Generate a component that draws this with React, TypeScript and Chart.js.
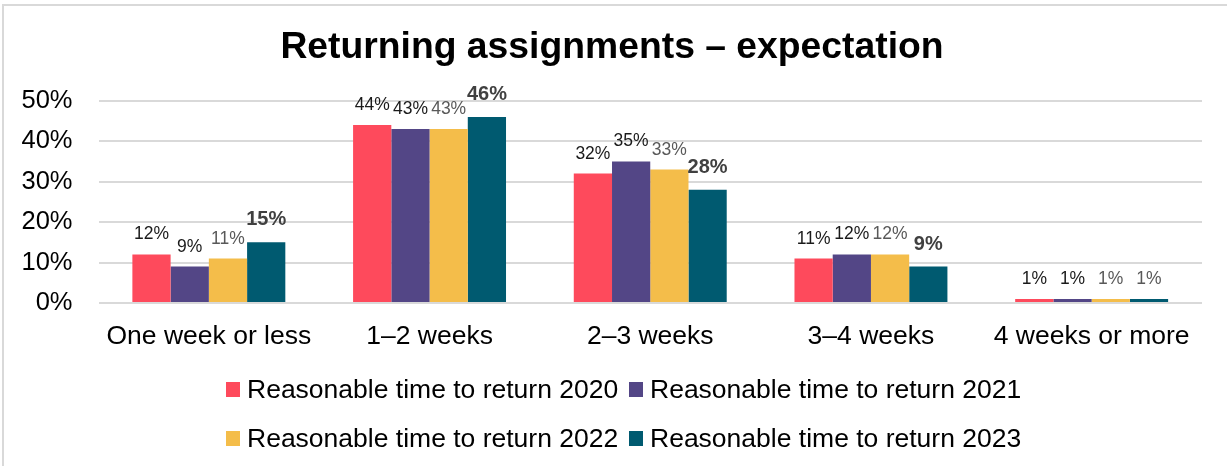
import React, { useEffect, useRef } from "react";
import { Chart, registerables } from "chart.js";

Chart.register(...registerables);

const categories = ["One week or less", "1–2 weeks", "2–3 weeks", "3–4 weeks", "4 weeks or more"];
const seriesNames = [
  "Reasonable time to return 2020",
  "Reasonable time to return 2021",
  "Reasonable time to return 2022",
  "Reasonable time to return 2023",
];
const values2020 = [12, 44, 32, 11, 1];
const values2021 = [9, 43, 35, 12, 1];
const values2022 = [11, 43, 33, 12, 1];
const values2023 = [15, 46, 28, 9, 1];
const seriesColors = ["#fe4a5c", "#534686", "#f4bd4a", "#005a70"];
const labelColors = ["#1a1a1a", "#1a1a1a", "#595959", "#404040"];
// per-series, per-category: is the data label bold
const labelBold = [
  [false, false, false, false, false],
  [false, false, false, false, false],
  [false, false, false, false, false],
  [true, true, true, true, false],
];
const yTicks = [0, 10, 20, 30, 40, 50];

const FONT = "'Liberation Sans', Arial, sans-serif";

const dataLabelPlugin = {
  id: "dataLabels",
  afterDatasetsDraw(chart: any) {
    const ctx = chart.ctx;
    chart.data.datasets.forEach((ds: any, di: number) => {
      const meta = chart.getDatasetMeta(di);
      meta.data.forEach((bar: any, i: number) => {
        const bold = labelBold[di][i];
        ctx.save();
        ctx.font = `${bold ? "bold " : ""}${bold ? 20 : 17.5}px ${FONT}`;
        ctx.fillStyle = bold ? labelColors[di] : di === 3 ? "#595959" : labelColors[di];
        ctx.textAlign = "center";
        ctx.textBaseline = "alphabetic";
        ctx.fillText(`${ds.data[i]}%`, bar.x, bar.y - (bold ? 17 : 15));
        ctx.restore();
      });
    });
  },
};

export default function App() {
  const canvasRef = useRef<HTMLCanvasElement | null>(null);

  useEffect(() => {
    if (!canvasRef.current) return;
    const allValues = [values2020, values2021, values2022, values2023];
    const chart = new Chart(canvasRef.current, {
      type: "bar",
      data: {
        labels: categories,
        datasets: allValues.map((vals, i) => ({
          label: seriesNames[i],
          data: vals,
          backgroundColor: seriesColors[i],
          borderWidth: 0,
          categoryPercentage: 0.693,
          barPercentage: 1,
        })),
      },
      options: {
        animation: false,
        responsive: false,
        maintainAspectRatio: false,
        layout: { padding: { left: 22, right: 25, top: 0, bottom: 116 } },
        plugins: {
          legend: { display: false },
          tooltip: { enabled: false },
          title: {
            display: true,
            text: "Returning assignments – expectation",
            color: "#000",
            font: { family: FONT, size: 37.3, weight: "bold" },
            padding: { top: 25, bottom: 31 },
          },
        },
        scales: {
          x: {
            grid: { display: false, drawTicks: false },
            border: { display: false },
            ticks: {
              color: "#000",
              font: { family: FONT, size: 26.5 },
              padding: 18,
              maxRotation: 0,
              autoSkip: false,
            },
            afterFit: (axis: any) => {
              axis.height = 47;
            },
          },
          y: {
            min: yTicks[0],
            max: yTicks[yTicks.length - 1],
            afterBuildTicks: (axis: any) => {
              axis.ticks = yTicks.map((v) => ({ value: v }));
            },
            grid: { color: "#d9d9d9", lineWidth: 2, drawTicks: false },
            border: { display: false },
            ticks: {
              color: "#000",
              font: { family: FONT, size: 25.5 },
              padding: 26,
              callback: (v: any) => `${v}%`,
            },
            afterFit: (axis: any) => {
              axis.width = 76.5;
            },
          },
        },
      },
      plugins: [dataLabelPlugin],
    });
    return () => chart.destroy();
  }, []);

  const legendRows = [
    [0, 1],
    [2, 3],
  ];
  const rowCenters = [389, 438];
  const colLefts = [226, 629];

  return (
    <div
      style={{
        position: "fixed",
        left: 0,
        top: 0,
        width: 1227,
        height: 466,
        background: "#fff",
        overflow: "hidden",
      }}
    >
      <div
        style={{
          position: "absolute",
          left: 2,
          top: 4,
          width: 1240,
          height: 480,
          borderLeft: "2px solid #d9d9d9",
          borderTop: "2px solid #d9d9d9",
        }}
      />
      <canvas ref={canvasRef} width={1227} height={466} style={{ position: "absolute", left: 0, top: 0 }} />
      {legendRows.map((row, ri) =>
        row.map((si, ci) => (
          <div
            key={si}
            style={{
              position: "absolute",
              left: colLefts[ci],
              top: rowCenters[ri] - 20,
              height: 40,
              display: "flex",
              alignItems: "center",
              fontFamily: FONT,
              fontSize: 26.5,
              color: "#000",
              whiteSpace: "nowrap",
            }}
          >
            <span
              style={{
                display: "inline-block",
                width: 14,
                height: 15,
                background: seriesColors[si],
                marginRight: 7,
              }}
            />
            <span>{seriesNames[si]}</span>
          </div>
        ))
      )}
    </div>
  );
}
